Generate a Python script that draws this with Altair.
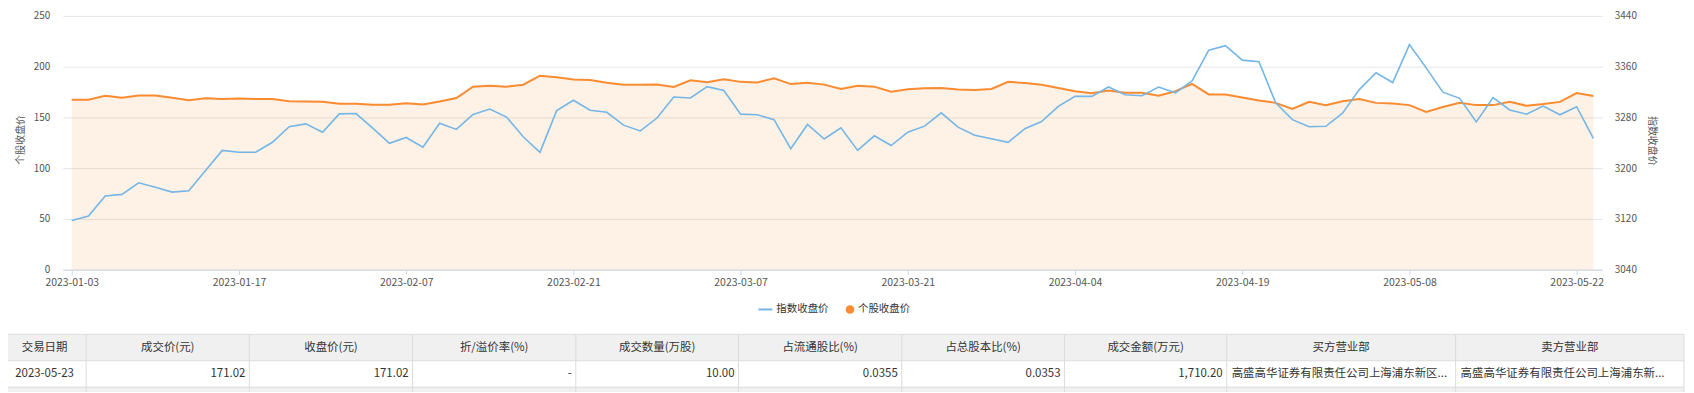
import altair as alt
import pandas as pd

FONT = "Noto Sans CJK SC"

# ---------------- data ----------------
dates = [
    "2023-01-03", "2023-01-04", "2023-01-05", "2023-01-06", "2023-01-09", "2023-01-10",
    "2023-01-11", "2023-01-12", "2023-01-13", "2023-01-16", "2023-01-17", "2023-01-18",
    "2023-01-19", "2023-01-20", "2023-01-30", "2023-01-31",
    "2023-02-01", "2023-02-02", "2023-02-03", "2023-02-06", "2023-02-07", "2023-02-08",
    "2023-02-09", "2023-02-10", "2023-02-13", "2023-02-14", "2023-02-15", "2023-02-16",
    "2023-02-17", "2023-02-20", "2023-02-21", "2023-02-22", "2023-02-23", "2023-02-24",
    "2023-02-27", "2023-02-28",
    "2023-03-01", "2023-03-02", "2023-03-03", "2023-03-06", "2023-03-07", "2023-03-08",
    "2023-03-09", "2023-03-10", "2023-03-13", "2023-03-14", "2023-03-15", "2023-03-16",
    "2023-03-17", "2023-03-20", "2023-03-21", "2023-03-22", "2023-03-23", "2023-03-24",
    "2023-03-27", "2023-03-28", "2023-03-29", "2023-03-30", "2023-03-31",
    "2023-04-03", "2023-04-04", "2023-04-06", "2023-04-07", "2023-04-10", "2023-04-11",
    "2023-04-12", "2023-04-13", "2023-04-14", "2023-04-17", "2023-04-18", "2023-04-19",
    "2023-04-20", "2023-04-21", "2023-04-24", "2023-04-25", "2023-04-26", "2023-04-27",
    "2023-04-28",
    "2023-05-04", "2023-05-05", "2023-05-08", "2023-05-09", "2023-05-10", "2023-05-11",
    "2023-05-12", "2023-05-15", "2023-05-16", "2023-05-17", "2023-05-18", "2023-05-19",
    "2023-05-22", "2023-05-23",
]

stock_close = [
    167.5, 167.5, 171.3, 169.4, 171.6, 171.6, 169.4, 166.9, 168.8, 168.2,
    168.5, 168.2, 168.2, 165.9, 165.6, 165.3, 163.4, 163.4, 162.4, 162.4,
    164.0, 162.7, 165.6, 169.1, 180.3, 181.2, 180.3, 182.2, 191.1, 189.5,
    187.3, 186.9, 184.1, 182.2, 182.2, 182.5, 179.9, 186.6, 184.7, 187.6,
    185.0, 184.4, 188.5, 182.8, 184.1, 182.3, 178.0, 181.2, 180.3, 175.2,
    177.7, 178.7, 179.0, 177.4, 177.1, 178.0, 185.0, 183.8, 182.2, 179.0,
    175.8, 173.9, 176.4, 174.2, 174.2, 171.3, 175.8, 183.1, 172.6, 172.6,
    169.7, 166.6, 164.3, 158.3, 165.3, 162.0, 165.9, 168.2, 164.3, 163.7,
    162.1, 155.4, 160.2, 164.3, 162.1, 162.1, 165.3, 161.5, 163.1, 165.3,
    173.9, 171.02,
]

index_close = [
    3117.4, 3124.6, 3156.2, 3158.7, 3177.0, 3169.9, 3162.3, 3164.3, 3196.4, 3228.0,
    3225.0, 3225.0, 3240.8, 3265.2, 3269.8, 3256.6, 3285.6, 3286.1, 3263.2, 3239.2,
    3248.4, 3233.1, 3270.8, 3261.1, 3284.6, 3293.2, 3280.5, 3249.4, 3225.0, 3290.7,
    3307.0, 3291.2, 3288.1, 3267.8, 3258.6, 3279.0, 3312.1, 3310.6, 3328.4, 3322.3,
    3285.1, 3284.1, 3276.4, 3230.6, 3268.8, 3245.9, 3263.7, 3228.0, 3251.0, 3235.7,
    3256.6, 3266.2, 3287.1, 3264.7, 3252.0, 3246.4, 3240.8, 3262.2, 3273.4, 3297.3,
    3313.1, 3313.1, 3327.9, 3315.7, 3314.1, 3327.9, 3318.7, 3337.6, 3386.0, 3393.1,
    3370.2, 3367.6, 3302.9, 3276.4, 3265.2, 3266.0, 3286.6, 3323.8, 3350.3, 3335.0,
    3394.7, 3358.0, 3319.7, 3310.1, 3272.9, 3311.1, 3291.7, 3285.1, 3297.8, 3284.1,
    3296.8, 3246.9,
]

x_tick_labels = [
    "2023-01-03", "2023-01-17", "2023-02-07", "2023-02-21", "2023-03-07",
    "2023-03-21", "2023-04-04", "2023-04-19", "2023-05-08", "2023-05-22",
]
left_ticks = [0, 50, 100, 150, 200, 250]
right_ticks = [3040, 3120, 3200, 3280, 3360, 3440]
series_names = ["指数收盘价", "个股收盘价"]
axis_titles = ["个股收盘价", "指数收盘价"]

table_headers = ["交易日期", "成交价(元)", "收盘价(元)", "折/溢价率(%)", "成交数量(万股)",
                 "占流通股比(%)", "占总股本比(%)", "成交金额(万元)", "买方营业部", "卖方营业部"]
table_row = ["2023-05-23", "171.02", "171.02", "-", "10.00", "0.0355", "0.0353",
             "1,710.20", "高盛高华证券有限责任公司上海浦东新区...", "高盛高华证券有限责任公司上海浦东新..."]
row_align = ["center", "right", "right", "right", "right", "right", "right", "right", "left", "left"]

# ---------------- layout ----------------
PAD_L, PAD_T, PAD_R = 55, 7, 84
W = 1547
H = 270 - (8 + PAD_T)
PAD_B = 385 - PAD_T - H
OX, OY = 8 + PAD_L, 8 + PAD_T  # page position of plot origin

BLUE = "#74b6e6"
ORANGE = "#f98b30"

df = pd.DataFrame({"date": dates, "stock": stock_close, "index": index_close})

x_enc = alt.X(
    "date:O", sort=None,
    scale=alt.Scale(type="point", padding=0.54),
    axis=alt.Axis(values=x_tick_labels, title=None, labelAngle=0, grid=False,
                  domainColor="#ccd6eb", tickColor="#ccd6eb", tickSize=5,
                  labelPadding=3, labelFontSize=10.5, labelColor="#555555",
                  labelFont=FONT, labelOverlap=False),
)

left_y = alt.Y(
    "stock:Q",
    scale=alt.Scale(domain=[0, 250], nice=False, zero=True),
    axis=alt.Axis(values=left_ticks, format="d", title=axis_titles[0], grid=True,
                  gridColor="#e6e6e6", domain=False, ticks=False, tickSize=0, labelPadding=13,
                  labelFontSize=10, labelColor="#555555", labelFont=FONT,
                  titleX=-42, titleY=139 - OY, titleBaseline="middle", titleAngle=270,
                  titleFontSize=10, titleFontWeight="normal", titleColor="#555555",
                  titleFont=FONT),
)

right_y = alt.Y(
    "index:Q",
    scale=alt.Scale(domain=[3040, 3440], nice=False, zero=False),
    axis=alt.Axis(orient="right", values=right_ticks, format="d", title=axis_titles[1],
                  grid=False, domain=False, ticks=False, tickSize=0, labelPadding=12,
                  labelFontSize=10, labelColor="#555555", labelFont=FONT,
                  titleX=49, titleY=140 - OY, titleBaseline="middle", titleAngle=90,
                  titleFontSize=10, titleFontWeight="normal", titleColor="#555555",
                  titleFont=FONT),
)

base = alt.Chart(df)
area = base.mark_area(color=ORANGE, opacity=0.12).encode(x=x_enc, y=left_y)
line_stock = base.mark_line(color=ORANGE, strokeWidth=2).encode(x=x_enc, y=left_y)
line_index = base.mark_line(color=BLUE, strokeWidth=1.6).encode(x=x_enc, y=right_y)

left_layer = alt.layer(area, line_stock)

# ---------------- legend ----------------
leg_y = 310 - OY
leg_line = pd.DataFrame({"x": [762 - OX], "x2": [776 - OX], "y": [leg_y]})
leg_dot = pd.DataFrame({"x": [854 - OX], "y": [leg_y]})
leg_text = pd.DataFrame({"x": [780 - OX, 862 - OX], "y": [leg_y, leg_y], "t": series_names})

legend_line = alt.Chart(leg_line).mark_rule(color=BLUE, strokeWidth=2).encode(
    x=alt.X("x:Q", scale=None), x2="x2:Q", y=alt.Y("y:Q", scale=None))
legend_dot = alt.Chart(leg_dot).mark_circle(color=ORANGE, opacity=1, size=75).encode(
    x=alt.X("x:Q", scale=None), y=alt.Y("y:Q", scale=None))
legend_text = alt.Chart(leg_text).mark_text(
    align="left", baseline="middle", font=FONT, fontSize=10.5, color="#333333").encode(
    x=alt.X("x:Q", scale=None), y=alt.Y("y:Q", scale=None), text="t:N")

# ---------------- table ----------------
col_edges = [3, 86.5, 250.5, 414.5, 578.5, 742, 906, 1069.5, 1232.5, 1462.5, 1692]
col_edges = [c - OX for c in col_edges]
t_top, t_head_bot, t_row_bot, t_end = 335 - OY, 361.5 - OY, 388 - OY, 393 - OY

bg = pd.DataFrame({
    "x": [col_edges[0], col_edges[0]], "x2": [col_edges[-1], col_edges[-1]],
    "y": [t_top, t_row_bot], "y2": [t_head_bot, t_end],
})
table_bg = alt.Chart(bg).mark_rect(color="#f0f0f0").encode(
    x=alt.X("x:Q", scale=None), x2="x2:Q", y=alt.Y("y:Q", scale=None), y2="y2:Q")

hlines = pd.DataFrame({
    "x": [col_edges[0]] * 3, "x2": [col_edges[-1]] * 3,
    "y": [t_top, t_head_bot, t_row_bot],
})
table_h = alt.Chart(hlines).mark_rule(color="#dcdcdc", strokeWidth=1).encode(
    x=alt.X("x:Q", scale=None), x2="x2:Q", y=alt.Y("y:Q", scale=None))

vlines = pd.DataFrame({"x": col_edges, "y": [t_top] * len(col_edges), "y2": [t_end] * len(col_edges)})
table_v = alt.Chart(vlines).mark_rule(color="#dcdcdc", strokeWidth=1).encode(
    x=alt.X("x:Q", scale=None), y=alt.Y("y:Q", scale=None), y2="y2:Q")

head_rows = []
for i, h in enumerate(table_headers):
    head_rows.append({"x": (col_edges[i] + col_edges[i + 1]) / 2, "y": 349 - OY, "t": h})
head_df = pd.DataFrame(head_rows)
table_head = alt.Chart(head_df).mark_text(
    align="center", baseline="middle", font=FONT, fontSize=11.5, color="#333333").encode(
    x=alt.X("x:Q", scale=None), y=alt.Y("y:Q", scale=None), text="t:N")

cell_layers = []
for al in ["center", "right", "left"]:
    rows = []
    for i, (v, a) in enumerate(zip(table_row, row_align)):
        if a != al:
            continue
        if a == "center":
            xx = (col_edges[i] + col_edges[i + 1]) / 2
        elif a == "right":
            xx = col_edges[i + 1] - 4
        else:
            xx = col_edges[i] + 5
        rows.append({"x": xx, "y": 375 - OY, "t": v})
    cell_layers.append(
        alt.Chart(pd.DataFrame(rows)).mark_text(
            align=al, baseline="middle", font=FONT, fontSize=11.5, color="#333333").encode(
            x=alt.X("x:Q", scale=None), y=alt.Y("y:Q", scale=None), text="t:N"))

chart = alt.layer(
    left_layer, line_index,
    legend_line, legend_dot, legend_text,
    table_bg, table_h, table_v, table_head, *cell_layers,
).resolve_scale(y="independent").properties(
    width=W, height=H,
    autosize=alt.AutoSizeParams(type="none"),
    padding={"left": PAD_L, "top": PAD_T, "right": PAD_R, "bottom": PAD_B},
    background="white",
).configure_view(stroke=None)

chart.save("out.html", embed_options={"renderer": "svg", "actions": False})
